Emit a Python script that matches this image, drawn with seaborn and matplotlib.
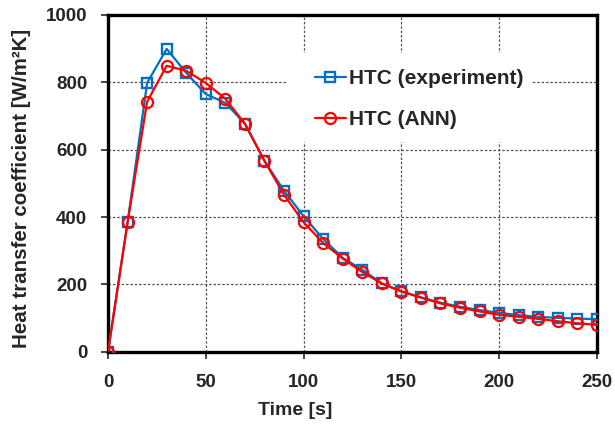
import numpy as np
import pandas as pd
import matplotlib
matplotlib.use('Agg')
import matplotlib.pyplot as plt
from matplotlib.patches import Rectangle
import seaborn as sns

# 时间 (s)
time_s = [0, 10, 20, 30, 40, 50, 60, 70, 80, 90, 100, 110, 120, 130,
          140, 150, 160, 170, 180, 190, 200, 210, 220, 230, 240, 250]
# 实验值
htc_exp = [0, 384, 798, 899, 828, 765, 739, 677, 567, 478, 403, 335, 279, 244,
           203, 180, 162, 146, 134, 124, 116, 109, 104, 101, 99, 97]
# ANN 预测
htc_ann = [0, 384, 742, 849, 834, 798, 751, 677, 567, 466, 385, 323, 277, 237,
           203, 179, 161, 144, 131, 120, 110, 104, 98, 91, 85, 80]

x_ticks = [0, 50, 100, 150, 200, 250]
y_ticks = [0, 200, 400, 600, 800, 1000]

sns.set_style("ticks")
plt.rcParams['font.family'] = ['Liberation Sans', 'DejaVu Sans']
plt.rcParams['font.weight'] = 'bold'

df = pd.DataFrame({'Time': time_s, 'exp': htc_exp, 'ann': htc_ann})

fig = plt.figure(figsize=(6.15, 4.25), dpi=100)
ax = fig.add_axes([0.1756, 0.172, 0.795, 0.793])

sns.lineplot(data=df, x='Time', y='exp', ax=ax, color='#0070C0', linewidth=1.6,
             marker='s', markersize=7, markerfacecolor='none',
             markeredgecolor='#0070C0', markeredgewidth=1.7,
             label='HTC (experiment)', zorder=3)
sns.lineplot(data=df, x='Time', y='ann', ax=ax, color='#FF0000', linewidth=1.6,
             marker='o', markersize=8, markerfacecolor='none',
             markeredgecolor='#FF0000', markeredgewidth=1.6,
             label='HTC (ANN)', zorder=4)

ax.set_xlim(0, 250)
ax.set_ylim(0, 1000)
ax.set_xticks(x_ticks)
ax.set_yticks(y_ticks)
ax.grid(True, linestyle=(0, (2, 1.5)), color='#555555', linewidth=0.9)

# 图例后面的白底，盖住网格线
ax.add_patch(Rectangle((0.366, 0.623), 0.5, 0.264, transform=ax.transAxes,
                       facecolor='white', edgecolor='none', zorder=1))

for s in ax.spines.values():
    s.set_linewidth(2.4)
    s.set_color('black')
ax.tick_params(direction='out', length=5, width=1.2, labelsize=13.5)
ax.tick_params(axis='y', pad=10)
ax.tick_params(axis='x', pad=11)
for lab in ax.get_xticklabels() + ax.get_yticklabels():
    lab.set_fontweight('bold')

ax.set_xlabel('Time [s]', fontsize=14, fontweight='bold')
ax.set_ylabel('Heat transfer coefficient [W/m²K]', fontsize=14.8, fontweight='bold')
ax.xaxis.set_label_coords(0.382, -0.148)
ax.yaxis.set_label_coords(-0.158, 0.484)

leg = ax.legend(loc='upper left', bbox_to_anchor=(0.424, 0.838), frameon=False,
                prop={'size': 15, 'weight': 'bold'}, labelspacing=1.05,
                handlelength=1.45, handletextpad=0.15, borderpad=0,
                borderaxespad=0)
leg.set_zorder(5)

fig.savefig('out.png', dpi=100)
